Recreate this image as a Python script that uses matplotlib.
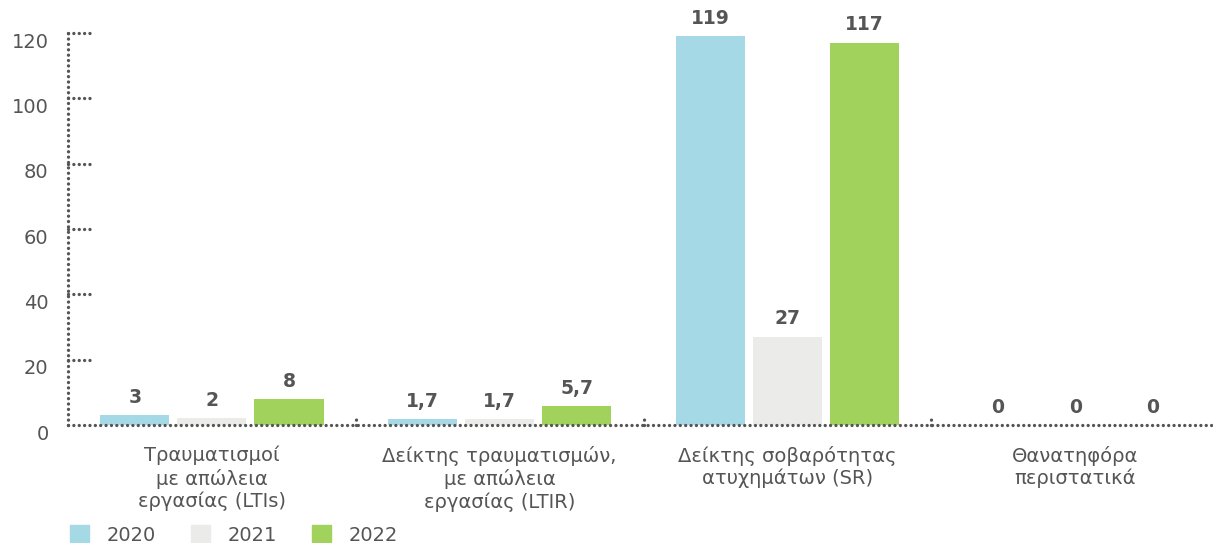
import matplotlib.pyplot as plt
import matplotlib.transforms as mtransforms
from matplotlib.patches import Patch
import numpy as np

plt.rcParams['font.family'] = ['DejaVu Sans']

categories = ["Τραυματισμοί\nμε απώλεια\nεργασίας (LTIs)",
              "Δείκτης τραυματισμών,\nμε απώλεια\nεργασίας (LTIR)",
              "Δείκτης σοβαρότητας\nατυχημάτων (SR)",
              "Θανατηφόρα\nπεριστατικά"]
years = ["2020", "2021", "2022"]
v2020 = [3, 1.7, 119, 0]
v2021 = [2, 1.7, 27, 0]
v2022 = [8, 5.7, 117, 0]
labels2020 = ["3", "1,7", "119", "0"]
labels2021 = ["2", "1,7", "27", "0"]
labels2022 = ["8", "5,7", "117", "0"]
colors = ["#A6D9E6", "#EBEBE9", "#A1D25C"]
yticks = [0, 20, 40, 60, 80, 100, 120]

txt = "#555555"
dot = (0, (0.01, 1.6))
lw = 2.4

fig = plt.figure(figsize=(12.13, 5.43), dpi=100)
ax = fig.add_axes([68 / 1213, 1 - 425 / 543, 1151 / 1213, 392 / 543])

x = np.arange(len(categories))
width = 0.24
step = 0.268
series = [(v2020, labels2020), (v2021, labels2021), (v2022, labels2022)]
for i, (vals, labs) in enumerate(series):
    pos = x + (i - 1) * step
    ax.bar(pos, vals, width, color=colors[i], zorder=2)
    for p, v, l in zip(pos, vals, labs):
        ax.annotate(l, (p, v), xytext=(0, 6), textcoords="offset points",
                    ha="center", va="bottom", fontsize=13.5, fontweight="bold",
                    color=txt)

ax.set_xlim(-0.5, 3.5)
ax.set_ylim(0, 120)
for s in ["top", "right"]:
    ax.spines[s].set_visible(False)
for s in ["left", "bottom"]:
    ax.spines[s].set_linestyle(dot)
    ax.spines[s].set_linewidth(lw)
    ax.spines[s].set_color(txt)
    ax.spines[s].set_capstyle("round")
ax.spines["bottom"].set_zorder(3)

ax.set_yticks(yticks)
ax.set_xticks(x)
ax.set_xticklabels(categories, fontsize=14, color=txt, linespacing=1.2)
ax.tick_params(axis="both", length=0)
ax.tick_params(axis="y", labelsize=14, labelcolor=txt, pad=14)
ax.tick_params(axis="x", pad=15)
off = mtransforms.ScaledTranslation(0, -7 / 100, fig.dpi_scale_trans)
for lab in ax.get_yticklabels():
    lab.set_transform(lab.get_transform() + off)

# dotted tick marks on the y axis
ytr = mtransforms.blended_transform_factory(ax.transAxes, ax.transData)
for t in yticks[1:]:
    ax.plot([0, 0.022], [t, t], transform=ytr, color=txt, linewidth=lw,
            linestyle=dot, dash_capstyle="round", clip_on=False)
# small separators between groups
xtr = mtransforms.blended_transform_factory(ax.transData, ax.transAxes)
for b in [0.5, 1.5, 2.5]:
    ax.plot([b, b], [0, 0.018], transform=xtr, color=txt, linewidth=lw,
            linestyle=dot, dash_capstyle="round", clip_on=False)

handles = [Patch(color=c) for c in colors]
fig.legend(handles, years, loc="lower left", bbox_to_anchor=(52 / 1213, -0.035),
           ncol=3, frameon=False, fontsize=14, labelcolor=txt,
           handlelength=1.0, handleheight=0.95, handletextpad=0.9,
           columnspacing=1.8)

fig.savefig("out.png", dpi=100)
